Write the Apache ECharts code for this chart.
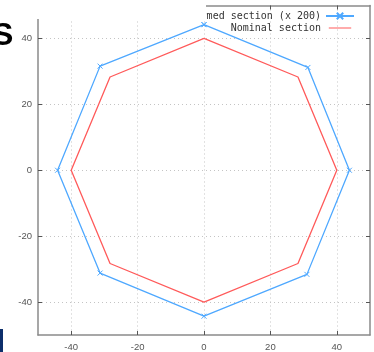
<!DOCTYPE html>
<html>
<head>
<meta charset="utf-8">
<script src="https://cdn.jsdelivr.net/npm/echarts@6/dist/echarts.min.js"></script>
<style>
  html, body { margin: 0; padding: 0; background: #fff; }
  #chart { width: 374px; height: 352px; }
</style>
</head>
<body>
<div id="chart"></div>
<script>
// Cross-section outlines: deformed (displacements scaled x 200) and nominal
const deformedName = 'Deformed section (x 200)';
const nominalName = 'Nominal section';
const deformedX = [0, 31.3, 43.8, 31.0, 0, -31.3, -44.1, -31.3, 0];
const deformedY = [44.2, 31.2, 0, -31.6, -44.3, -31.2, 0, 31.6, 44.2];
const nominalX = [0, 28.3, 40, 28.3, 0, -28.3, -40, -28.3, 0];
const nominalY = [40, 28.3, 0, -28.3, -40, -28.3, 0, 28.3, 40];
const tickValues = [-40, -20, 0, 20, 40];

const pairs = (xs, ys) => xs.map((x, i) => [x, ys[i]]);

const frameLine = { show: true, onZero: false, lineStyle: { color: '#8a8a8a', width: 1.5 } };
const inTick = { show: true, inside: true, length: 4, customValues: tickValues, lineStyle: { color: '#555', width: 1 } };
const gridLine = { show: true, lineStyle: { color: '#c4c4c4', type: [1, 3], width: 1 } };
const labelStyle = { color: '#555', fontSize: 9.5, fontFamily: 'Liberation Sans, Arial, sans-serif' };

// plain line key (tiny corner dots keep the icon box at full size)
const lineKey = 'path://M0,0H0.01V0.01H0Z M0,4.3H28V5.7H0Z M27.99,9.99H28V10H27.99Z';

const chart = echarts.init(document.getElementById('chart'), null, { renderer: 'canvas' });
chart.setOption({
  animation: false,
  grid: { left: 38, right: 4, top: 5.5, bottom: 15, containLabel: false },
  xAxis: [
    { type: 'value', min: -50, max: 50, position: 'bottom',
      axisLine: frameLine, axisTick: inTick, splitLine: gridLine,
      axisLabel: Object.assign({ customValues: tickValues, margin: 7 }, labelStyle) },
    { type: 'value', min: -50, max: 50, position: 'top',
      axisLine: frameLine, axisTick: inTick, splitLine: { show: false },
      axisLabel: { show: false } }
  ],
  yAxis: [
    { type: 'value', min: -50, max: 50, position: 'left',
      axisLine: frameLine, axisTick: inTick, splitLine: gridLine,
      axisLabel: Object.assign({ customValues: tickValues, margin: 6 }, labelStyle) },
    { type: 'value', min: -50, max: 50, position: 'right',
      axisLine: frameLine, axisTick: inTick, splitLine: { show: false },
      axisLabel: { show: false } }
  ],
  legend: {
    orient: 'vertical', right: 14, top: 6, align: 'right',
    itemWidth: 28, itemHeight: 8, itemGap: 2,
    textStyle: { fontFamily: 'DejaVu Sans Mono, monospace', fontSize: 10, color: '#333' },
    data: [deformedName, { name: nominalName, icon: lineKey }]
  },
  series: [
    { name: deformedName, type: 'line', xAxisIndex: 0, yAxisIndex: 0,
      data: pairs(deformedX, deformedY),
      symbol: 'path://M0,0L10,10M10,0L0,10', symbolSize: 5, showSymbol: true,
      itemStyle: { color: '#4ea8ff', borderColor: '#4ea8ff', borderWidth: 1 },
      lineStyle: { color: '#4ea8ff', width: 1.3 } },
    { name: nominalName, type: 'line', xAxisIndex: 0, yAxisIndex: 0,
      data: pairs(nominalX, nominalY), symbol: 'none',
      itemStyle: { color: '#ff5a5a' },
      lineStyle: { color: '#ff5a5a', width: 1.3 } }
  ],
  graphic: [
    // title panel of the page overlapping the plot's upper-left corner
    { type: 'rect', z: 100, shape: { x: 0, y: 0, width: 206, height: 19 }, style: { fill: '#fff' } },
    { type: 'text', z: 101, left: -8, top: 20,
      style: { text: 'S', fill: '#000', font: 'bold 32px Liberation Sans, Arial, sans-serif' } },
    { type: 'rect', z: 101, shape: { x: 0, y: 329, width: 3, height: 23 }, style: { fill: '#0d2f6b' } }
  ]
});
</script>
</body>
</html>
